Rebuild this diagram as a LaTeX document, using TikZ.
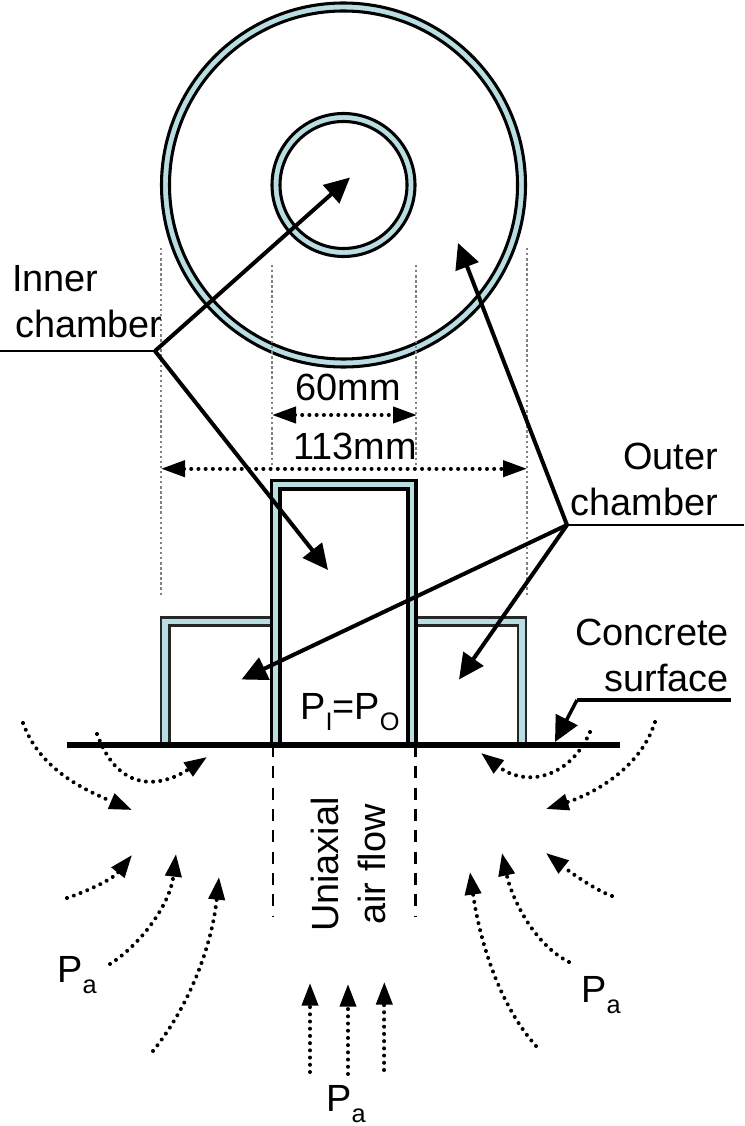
\documentclass[tikz,border=0pt]{standalone}
\usepackage{fontspec}
\setmainfont{Liberation Sans}
\usetikzlibrary{arrows.meta}
\definecolor{wall}{HTML}{B8DEE2}
\newcommand{\subt}[1]{\raisebox{-8.25pt}{\fontsize{19}{19}\selectfont #1}}
\tikzset{
  big/.style={font=\fontsize{28.4}{34.5}\selectfont,inner sep=0pt},
  wallline/.style={draw=black,line width=2.3pt,fill=wall},
  hollow/.style={draw=black,line width=2.3pt,fill=white},
  sidewall/.style={draw=black!85,line width=2.1pt,fill=wall},
  sidehollow/.style={draw=black!85,line width=2.1pt,fill=white},
  guide/.style={draw=black!50,line width=2pt,dash pattern=on 1.8pt off 2pt},
  leader/.style={draw=black,line width=2.2pt},
  pointer/.style={draw=black,line width=3pt,-{Triangle[length=19pt,width=18pt]}},
  flow/.style={draw=black,line width=3pt,line cap=round,dash pattern=on 0.01pt off 5.4pt,-{Triangle[length=17pt,width=12pt]}},
  dim/.style={draw=black,line width=3pt,line cap=round,dash pattern=on 0.01pt off 5.4pt,{Triangle[length=18pt,width=12pt]}-{Triangle[length=18pt,width=12pt]}},
  axisline/.style={draw=black,line width=2.2pt,dash pattern=on 9pt off 7pt},
}
\begin{document}
\begin{tikzpicture}[x=0.75pt,y=-0.75pt]
\useasboundingbox (0,0) rectangle (744,1126);
% plan view
\draw[wallline] (343.5,185) circle[radius=182];
\draw[hollow] (343.5,185) circle[radius=174];
\draw[wallline] (343.5,185) circle[radius=71.5];
\draw[hollow] (343.5,185) circle[radius=63.5];
% guides
\draw[guide] (161,248) -- (161,597);
\draw[guide] (527,248) -- (527,597);
\draw[guide] (272,265) -- (272,465);
\draw[guide] (416,265) -- (416,465);
% section
\draw[sidewall] (161,745) -- (161,617.5) -- (272,617.5) -- (272,745) -- cycle;
\draw[sidehollow] (169.5,745) -- (169.5,625.5) -- (272,625.5) -- (272,745) -- cycle;
\draw[sidewall] (416,745) -- (416,617.5) -- (526,617.5) -- (526,745) -- cycle;
\draw[sidehollow] (416,745) -- (416,625.5) -- (518,625.5) -- (518,745) -- cycle;
\draw[wallline] (271.8,745) -- (271.8,480.5) -- (416,480.5) -- (416,745) -- cycle;
\draw[hollow] (280,745) -- (280,489) -- (408,489) -- (408,745) -- cycle;
\draw[draw=black,line width=4pt] (67,745) -- (620,745);
% axis
\draw[axisline] (273,745) -- (273,917);
\draw[axisline] (415.7,745) -- (415.7,916);
% labels
\node[big,anchor=base] (d60) at (348,400) {60mm};
\node[big,anchor=base] (d113) at (355,459) {113mm};
\node[big,anchor=base west,align=left] (innerlabel) at (12,338) {Inner\\\hspace*{2.25pt}chamber};
\node[big,anchor=base east,align=right] (outerlabel) at (718,515) {Outer\\chamber};
\node[big,anchor=base east,align=right] (concretelabel) at (729,691) {Concrete\\surface};
\node[big,anchor=base west] (pipo) at (300,719) {P\subt{I}=P\subt{O}};
\node[big,anchor=base west] (pa1) at (57,982) {P\subt{a}};
\node[big,anchor=base west] (pa2) at (326,1111) {P\subt{a}};
\node[big,anchor=base west] (pa3) at (581,1002) {P\subt{a}};
\node[big,anchor=base,rotate=90] (uni) at (338,864.5) {Uniaxial};
\node[big,anchor=base,rotate=90] (air) at (385,864.5) {air flow};
% dimension arrows
\coordinate (a60l) at (272,415);
\coordinate (a60r) at (417,415);
\coordinate (a113l) at (161,468.7);
\coordinate (a113r) at (527,468.7);
\draw[dim] (a60l) -- (a60r);
\draw[dim] (a113l) -- (a113r);
% leaders
\coordinate (ilstart) at (0,351);
\coordinate (il) at (155,351);
\coordinate (iltop) at (350,177.5);
\coordinate (ilbot) at (328,570);
\coordinate (olstart) at (744,525);
\coordinate (ol) at (567,525);
\coordinate (oltop) at (458,243);
\coordinate (olleft) at (241.5,679.5);
\coordinate (olright) at (459,679.5);
\coordinate (csstart) at (731,700);
\coordinate (csbend) at (577,700);
\coordinate (cstip) at (555,742);
\draw[leader] (ilstart) -- (il);
\draw[pointer] (il) -- (iltop);
\draw[pointer] (il) -- (ilbot);
\draw[leader] (olstart) -- (ol);
\draw[pointer] (ol) -- (oltop);
\draw[pointer] (ol) -- (olleft);
\draw[pointer] (ol) -- (olright);
\draw[leader,line width=2.6pt] (csstart) -- (csbend);
\draw[pointer,line width=2.6pt] (csbend) -- (cstip);
% air flow, left
\draw[flow] (23,723) .. controls (40,770) and (85,790) .. (132,810);
\draw[flow] (97,734) .. controls (120,797) and (165,785) .. (207,757);
\draw[flow] (67,898) .. controls (85,892) and (112,880) .. (132,855);
\draw[flow] (110,964) .. controls (140,945) and (170,905) .. (176,854);
\draw[flow] (153,1051) .. controls (190,1005) and (212,945) .. (219,877);
% air flow, right
\draw[flow] (655,722) .. controls (640,770) and (590,795) .. (546,809);
\draw[flow] (590,732) .. controls (570,778) and (526,788) .. (481,753);
\draw[flow] (612,896) .. controls (595,890) and (570,872) .. (546,853);
\draw[flow] (569,962) .. controls (535,945) and (512,900) .. (502,853);
\draw[flow] (536,1046) .. controls (495,1000) and (478,930) .. (470,872);
% air flow, bottom
\draw[flow] (310,1072) -- (310,983);
\draw[flow] (348,1074) -- (348,984);
\draw[flow] (384.3,1070) -- (384.3,982);
\end{tikzpicture}
\end{document}
